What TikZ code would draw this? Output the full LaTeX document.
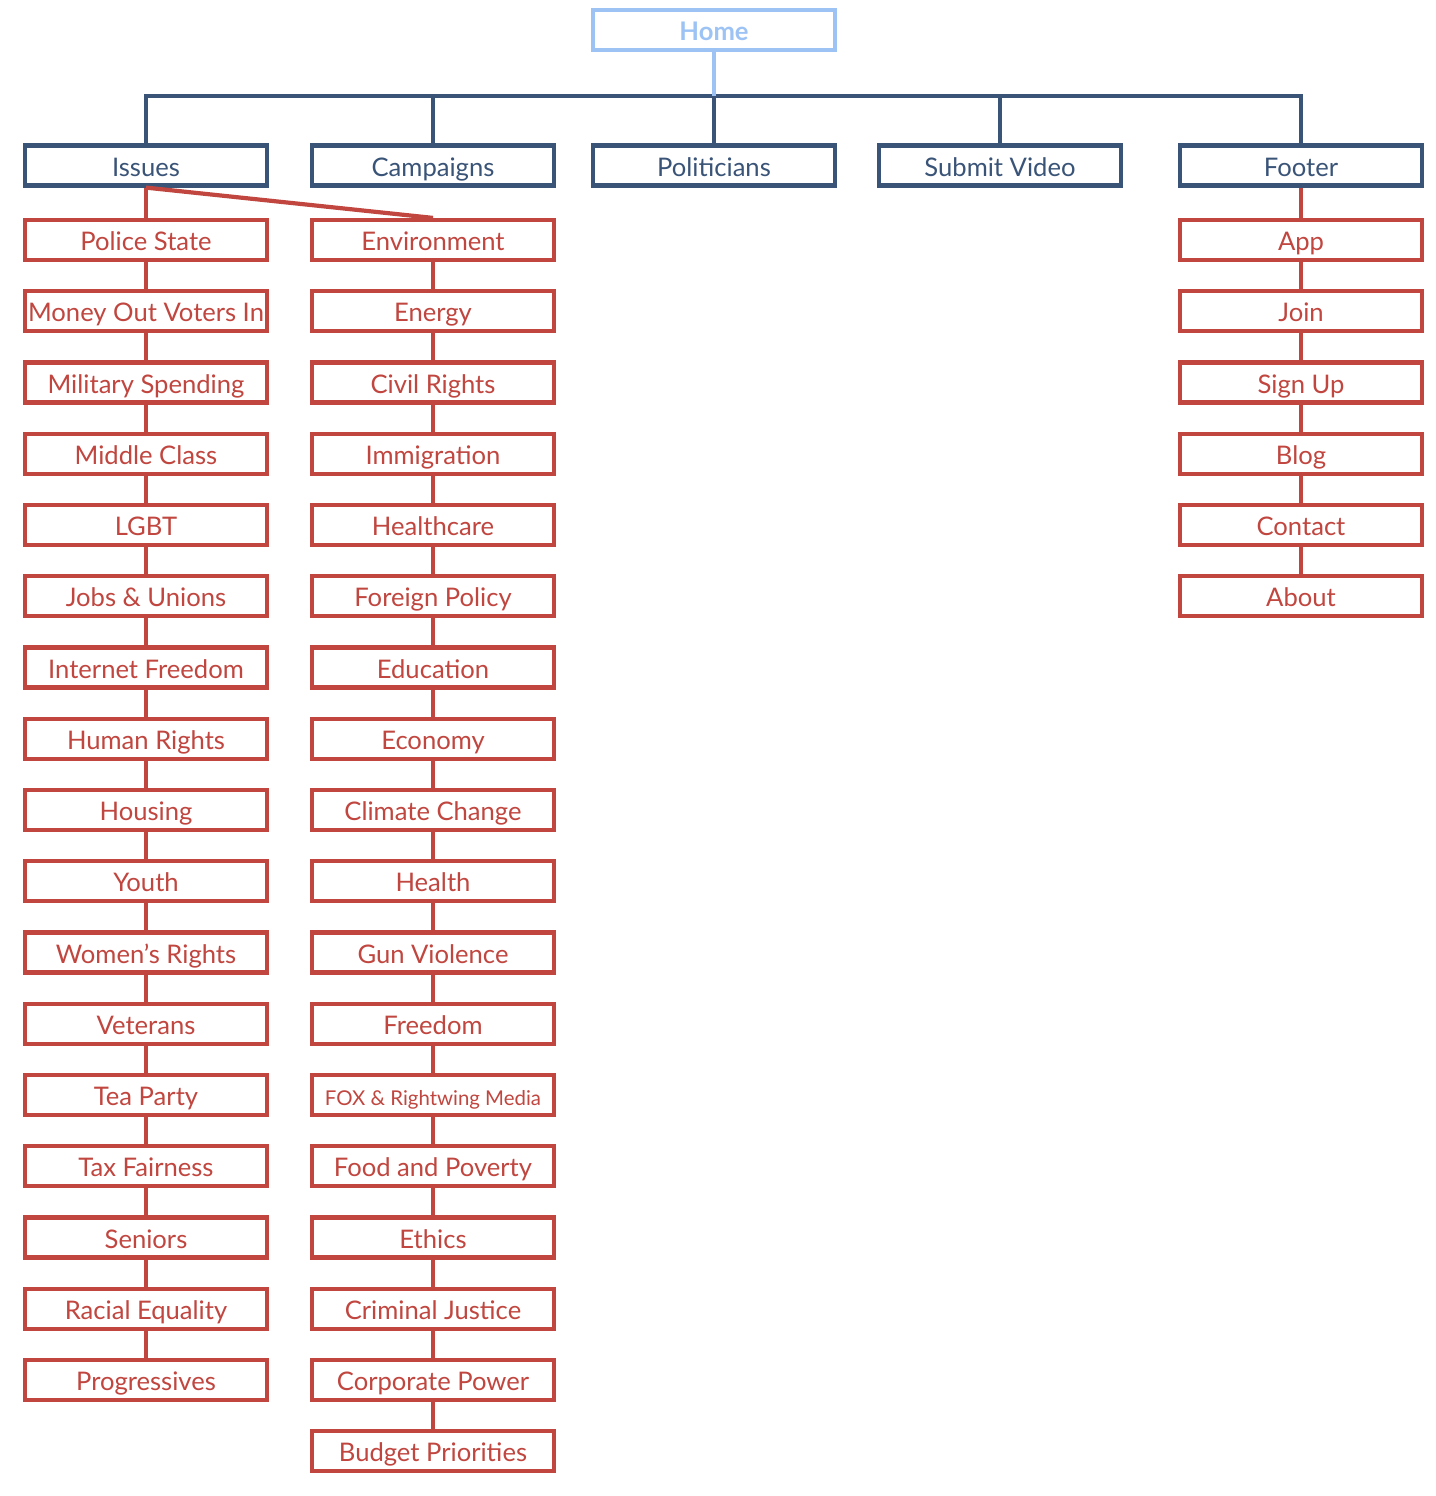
\documentclass[tikz,border=0pt]{standalone}
\usepackage{fontspec}
\setmainfont{Lato}
\definecolor{navy}{HTML}{3A5478}
\definecolor{brick}{HTML}{C0463F}
\definecolor{sky}{HTML}{9DC3F5}
\tikzset{
  box/.style={draw, line width=2.1pt, fill=white, minimum width=121pt, minimum height=20pt, inner sep=0pt, text height=10.5pt, text depth=0pt, font=\fontsize{12.8}{14}\selectfont},
  homebox/.style={box, draw=sky, text=sky, font=\fontsize{12.8}{14}\selectfont\bfseries},
  topbox/.style={box, draw=navy, text=navy},
  redbox/.style={box, draw=brick, text=brick},
  navyline/.style={draw=navy, line width=2.1pt},
  redline/.style={draw=brick, line width=2.1pt},
  skyline/.style={draw=sky, line width=2.1pt}
}
\begin{document}
\begin{tikzpicture}[x=0.5pt, y=-0.5pt]
\useasboundingbox (0,0) rectangle (1436,1496);
% top
\node[homebox] (home) at (714,30) {Home};
\node[topbox] (issues) at (146,165.5) {Issues};
\node[topbox] (campaigns) at (433,165.5) {Campaigns};
\node[topbox] (politicians) at (714,165.5) {Politicians};
\node[topbox] (submit) at (1000,165.5) {Submit Video};
\node[topbox] (footer) at (1301,165.5) {Footer};
\coordinate (bus) at (714,96);
% columns
\foreach \t [count=\k] in {Police State, Money Out Voters In, Military Spending, Middle Class, LGBT, Jobs \& Unions, Internet Freedom, Human Rights, Housing, Youth, Women’s Rights, Veterans, Tea Party, Tax Fairness, Seniors, Racial Equality, Progressives}
  {\node[redbox] (i\k) at (146,{240+71.25*(\k-1)}) {\t};}
\foreach \t [count=\k] in {Environment, Energy, Civil Rights, Immigration, Healthcare, Foreign Policy, Education, Economy, Climate Change, Health, Gun Violence, Freedom, {\fontsize{10.2}{12}\selectfont FOX \& Rightwing Media}, Food and Poverty, Ethics, Criminal Justice, Corporate Power, Budget Priorities}
  {\node[redbox] (c\k) at (433,{240+71.25*(\k-1)}) {\t};}
\foreach \t [count=\k] in {App, Join, Sign Up, Blog, Contact, About}
  {\node[redbox] (f\k) at (1301,{240+71.25*(\k-1)}) {\t};}
% connectors
\draw[navyline] (issues.north) |- (bus) -| (footer.north);
\draw[navyline] (campaigns.north) -- (campaigns.north |- bus);
\draw[navyline] (politicians.north) -- (politicians.north |- bus);
\draw[navyline] (submit.north) -- (submit.north |- bus);
\draw[skyline] (home.south) -- (bus);
\draw[redline] (issues.south) -- (i1.north);
\draw[redline] (issues.south) -- (c1.north);
\draw[redline] (footer.south) -- (f1.north);
\foreach \k in {2,...,17}{\pgfmathtruncatemacro\p{\k-1}\draw[redline] (i\p.south) -- (i\k.north);}
\foreach \k in {2,...,18}{\pgfmathtruncatemacro\p{\k-1}\draw[redline] (c\p.south) -- (c\k.north);}
\foreach \k in {2,...,6}{\pgfmathtruncatemacro\p{\k-1}\draw[redline] (f\p.south) -- (f\k.north);}
\end{tikzpicture}
\end{document}
